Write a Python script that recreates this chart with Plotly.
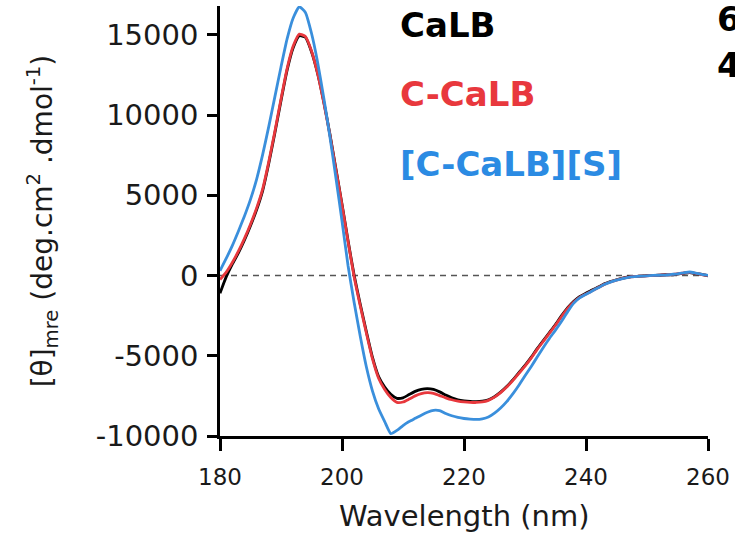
import plotly.graph_objects as go

wavelength = list(range(180, 261))

calb = [-1100, -100, 700, 1400, 2200, 3100, 4100, 5300, 7000, 8900,
        10900, 12800, 14200, 14950, 14850, 13950, 12600, 10850, 8850, 6650,
        4450, 2150, 0, -1800, -3500, -5100, -6300, -6950, -7400, -7650,
        -7620, -7420, -7220, -7090, -7050, -7100, -7250, -7450, -7620, -7740,
        -7810, -7850, -7860, -7830, -7740, -7550, -7270, -6920, -6500, -6050,
        -5600, -5100, -4550, -4050, -3550, -3050, -2500, -2000, -1600, -1300,
        -1100, -900, -720, -520, -380, -260, -160, -90, -50, -30,
        -10, 10, 20, 50, 40, 90, 140, 180, 120, 70, -20]

c_calb = [-250, 200, 800, 1500, 2300, 3200, 4200, 5400, 7100, 9000,
          11000, 12900, 14300, 15050, 14900, 14000, 12600, 10800, 8800, 6600,
          4400, 2100, -100, -1900, -3600, -5200, -6400, -7100, -7600, -7900,
          -7880, -7700, -7500, -7360, -7300, -7340, -7480, -7620, -7740, -7820,
          -7870, -7900, -7910, -7880, -7780, -7580, -7300, -6950, -6550, -6100,
          -5650, -5150, -4600, -4100, -3600, -3100, -2550, -2050, -1650, -1350,
          -1150, -950, -750, -550, -400, -280, -180, -100, -60, -40,
          -20, 0, 30, 40, 60, 100, 160, 200, 140, 60, 0]

c_calb_s = [300, 1050, 1850, 2750, 3700, 4750, 6000, 7550, 9300, 11150,
            13000, 14750, 16050, 16750, 16400, 15100, 13300, 11100, 8700, 6100,
            3400, 600, -1700, -3800, -5700, -7200, -8300, -9100, -9850, -9650,
            -9350, -9100, -8900, -8700, -8520, -8400, -8420, -8600, -8740, -8840,
            -8910, -8950, -8970, -8930, -8820, -8580, -8260, -7860, -7380, -6840,
            -6250, -5680, -5080, -4480, -3920, -3400, -2850, -2250, -1720, -1380,
            -1160, -960, -760, -560, -410, -290, -190, -110, -70, -40,
            -20, 10, 20, 30, 70, 110, 170, 220, 150, 70, 10]

series_names = ["CaLB", "C-CaLB", "[C-CaLB][S]"]
series_values = [calb, c_calb, c_calb_s]
line_colors = ["#000000", "#e8383d", "#3a8fdc"]
text_colors = ["#000000", "#e8383d", "#2b8be3"]

x_ticks = [180, 200, 220, 240, 260]
x_tick_text = ["180", "200", "220", "240", "260"]
y_ticks = [-10000, -5000, 0, 5000, 10000, 15000]
y_tick_text = ["-10000", "-5000", "0", "5000", "10000", "15000"]

fig = go.Figure()
for name, vals, col in zip(series_names, series_values, line_colors):
    fig.add_trace(go.Scatter(x=wavelength, y=vals, mode="lines", name=name,
                             line=dict(color=col, width=2.8, shape="spline", smoothing=0.5),
                             showlegend=False))

# dashed zero line
fig.add_shape(type="line", xref="paper", yref="y", x0=0, x1=1, y0=0, y1=0,
              line=dict(color="#555555", width=1.5, dash="6px,5px"), layer="below")

font_family = "DejaVu Sans"

fig.update_layout(
    width=735, height=539,
    margin=dict(l=220, r=27, t=6, b=103),
    paper_bgcolor="white", plot_bgcolor="white",
    font=dict(family=font_family, color="#1a1a1a"),
    xaxis=dict(range=[180, 260], tickvals=x_ticks, ticktext=x_tick_text,
               ticks="outside", ticklen=12,
               tickwidth=2.5, tickcolor="black", showline=True, linewidth=2.5,
               linecolor="black", showgrid=False, zeroline=False,
               tickfont=dict(size=23, family=font_family, color="#1a1a1a"),
               ticklabelstandoff=7),
    yaxis=dict(range=[-10000, 16800], tickvals=y_ticks, ticktext=y_tick_text,
               ticks="outside", ticklen=10,
               tickwidth=2.5, tickcolor="black", showline=True, linewidth=2.5,
               linecolor="black", showgrid=False, zeroline=False,
               tickfont=dict(size=29, family=font_family, color="#1a1a1a"),
               ticklabelstandoff=3),
)

annotations = [
    dict(text="Wavelength (nm)", xref="paper", yref="paper", x=0.5, y=-0.1860,
         xanchor="center", yanchor="middle", showarrow=False,
         font=dict(size=29, family=font_family, color="#1a1a1a")),
    dict(text="[θ]<sub>mre</sub> (deg.cm<sup>2</sup> .dmol<sup>-1</sup>)", xref="paper",
         yref="paper", x=-0.3640, y=0.5, xanchor="center", yanchor="middle",
         textangle=-90, showarrow=False,
         font=dict(size=28, family=font_family, color="#1a1a1a")),
]
legend_y = [0.9558, 0.7953, 0.6326]
for name, col, ly in zip(series_names, text_colors, legend_y):
    annotations.append(dict(text="<b>" + name + "</b>", xref="paper", yref="paper",
                            x=0.3648, y=ly, xanchor="left", yanchor="middle",
                            showarrow=False, font=dict(size=34, family=font_family, color=col)))
for t, ly in zip(["6", "4"], [0.970, 0.8628]):
    annotations.append(dict(text="<b>" + t + "</b>", xref="paper", yref="paper",
                            x=(715 - 220) / 488, y=ly, xanchor="left", yanchor="middle",
                            showarrow=False, font=dict(size=34, family=font_family, color="#000000")))
fig.update_layout(annotations=annotations)

fig.write_html("out.html", config={"displayModeBar": False},
               post_script="document.body.style.margin='0px';")
